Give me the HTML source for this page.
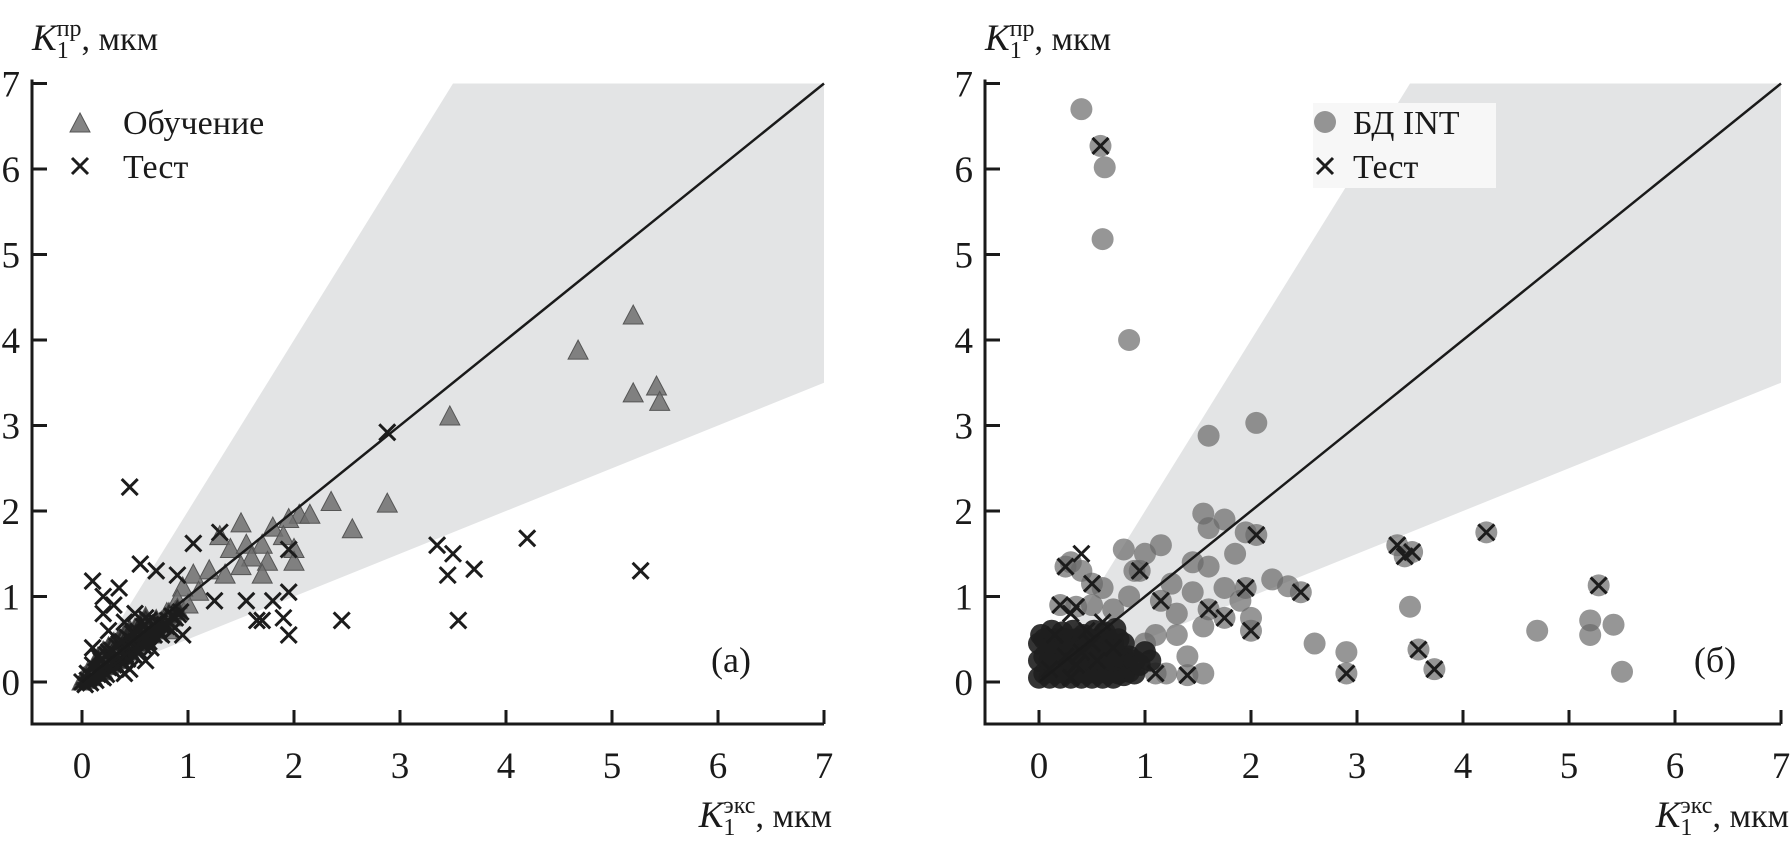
<!DOCTYPE html>
<html><head><meta charset="utf-8"><style>
body{margin:0;background:#fff}
svg{display:block;font-family:"Liberation Serif",serif}
</style></head><body>
<svg id="chart" width="1791" height="848" viewBox="0 0 1791 848"></svg>
<script>
const ticks=[0,1,2,3,4,5,6,7];
const trainX=[2.35,2.55,2.88,3.47,4.68,5.2,5.2,5.42,5.45,2.05,2.15,1.95,1.8,1.5,1.3,1.4,1.55,1.7,1.9,2.0,2.0,1.75,1.6,1.5,1.2,1.05,1.35,1.7,1.1,0.95,0.9,0.8,0.7,0.6,0.5,0.4,0.3,0.2,0.1,0.05,0.75,0.65,0.55,0.45,0.35,0.25,0.15,0.85,0.9,1.0,0.6,0.3,0.8];
const trainY=[2.1,1.78,2.08,3.1,3.87,4.28,3.37,3.45,3.27,1.95,1.95,1.9,1.8,1.85,1.7,1.55,1.6,1.6,1.7,1.55,1.4,1.4,1.45,1.35,1.3,1.25,1.25,1.25,1.05,1.1,0.95,0.8,0.7,0.6,0.5,0.4,0.3,0.2,0.1,0.05,0.65,0.55,0.45,0.35,0.25,0.2,0.12,0.75,0.85,0.9,0.7,0.45,0.6];
const testAX=[0.45,2.88,0.55,0.1,1.05,1.3,0.9,0.7,0.35,0.2,1.95,1.95,1.8,1.25,3.35,3.5,3.7,4.2,5.27,3.45,3.55,2.45,1.7,1.65,1.9,1.95,1.55,0.95,0.65,0.45,0.3,0.2,0.25,0.4,0.5,0.6,0.7,0.8,0.1,0.15,0.05,0.3,0.35,0.5,0.55,0.65,0.75,0.85,0.2,0.4,0.45,0.1,0.0,0.25,0.6];
const testAY=[2.28,2.92,1.38,1.18,1.62,1.75,1.25,1.3,1.1,1.0,1.55,1.05,0.95,0.95,1.6,1.5,1.32,1.68,1.3,1.25,0.72,0.72,0.72,0.72,0.75,0.55,0.95,0.55,0.6,0.15,0.9,0.8,0.6,0.7,0.8,0.75,0.7,0.65,0.4,0.3,0.1,0.2,0.45,0.3,0.5,0.4,0.55,0.6,0.05,0.1,0.5,0.2,0.0,0.35,0.25];
// dense cluster near origin (panel a)
const clusterAX=[0,0.02,0.05,0.05,0.08,0.1,0.1,0.12,0.15,0.15,0.18,0.2,0.2,0.22,0.25,0.25,0.28,0.3,0.3,0.33,0.35,0.35,0.38,0.4,0.4,0.42,0.45,0.45,0.48,0.5,0.5,0.53,0.55,0.55,0.58,0.6,0.6,0.63,0.65,0.68,0.7,0.7,0.73,0.75,0.78,0.8,0.82,0.85,0.88,0.9,0.3,0.4,0.5,0.6,0.2,0.15,0.25,0.35,0.45,0.55];
const clusterAY=[0,0.05,0.02,0.1,0.08,0.05,0.15,0.12,0.1,0.2,0.15,0.12,0.25,0.2,0.18,0.3,0.25,0.22,0.35,0.3,0.25,0.4,0.35,0.3,0.45,0.4,0.35,0.5,0.42,0.4,0.55,0.5,0.45,0.6,0.55,0.5,0.65,0.6,0.58,0.65,0.6,0.72,0.68,0.7,0.75,0.72,0.8,0.78,0.82,0.85,0.45,0.55,0.62,0.75,0.35,0.28,0.4,0.5,0.6,0.68];
const dbX=[0.4,0.58,0.62,0.6,0.85,1.6,2.05,1.55,1.75,1.6,1.95,1.45,1.6,1.85,1.0,1.15,0.8,0.9,1.25,1.45,1.75,1.9,2.2,2.35,2.0,1.55,1.3,1.1,1.4,1.55,1.2,2.6,2.9,3.5,4.7,5.2,5.2,5.42,5.5,0.3,0.4,0.6,0.5,0.7,0.25,0.5,0.95,1.15,0.2,0.35,1.6,1.75,1.95,2.05,2.47,2.0,2.9,3.38,3.45,3.52,3.58,3.73,4.22,5.28,1.4,1.1,0.85,1.0,1.3];
const dbY=[6.7,6.27,6.02,5.18,4.0,2.88,3.03,1.97,1.9,1.8,1.75,1.4,1.35,1.5,1.5,1.6,1.55,1.3,1.15,1.05,1.1,0.95,1.2,1.12,0.75,0.65,0.8,0.55,0.3,0.1,0.1,0.45,0.35,0.88,0.6,0.72,0.55,0.67,0.12,1.4,1.3,1.1,0.9,0.85,1.35,1.15,1.3,0.95,0.9,0.88,0.85,0.75,1.1,1.72,1.05,0.6,0.1,1.6,1.47,1.52,0.38,0.15,1.75,1.13,0.08,0.1,1.0,0.45,0.55];
// dense cluster near origin (panel b)
const clusterBX=[0,0.05,0.1,0.15,0.2,0.25,0.3,0.35,0.4,0.45,0.5,0.55,0.6,0.65,0.7,0.75,0.8,0.85,0.9,0,0.05,0.1,0.15,0.2,0.25,0.3,0.35,0.4,0.45,0.5,0.55,0.6,0.65,0.7,0.75,0.8,0.85,0.9,0,0.05,0.1,0.15,0.2,0.25,0.3,0.35,0.4,0.45,0.5,0.55,0.6,0.65,0.7,0.75,0.8,0.02,0.12,0.22,0.32,0.42,0.52,0.62,0.72,0.95,1.05,1.0];
const clusterBY=[0.05,0.1,0.05,0.1,0.05,0.1,0.05,0.1,0.05,0.1,0.05,0.1,0.05,0.1,0.05,0.1,0.08,0.12,0.1,0.25,0.3,0.25,0.3,0.25,0.3,0.25,0.3,0.25,0.3,0.25,0.3,0.25,0.3,0.25,0.3,0.28,0.3,0.25,0.45,0.5,0.45,0.5,0.45,0.5,0.45,0.5,0.45,0.5,0.45,0.5,0.45,0.5,0.45,0.5,0.45,0.55,0.6,0.58,0.6,0.55,0.6,0.58,0.62,0.2,0.25,0.35];
const testBX=[0.58,0.25,0.4,0.5,0.95,1.15,0.2,0.35,1.6,1.75,1.95,2.05,2.47,2.0,2.9,3.38,3.45,3.52,3.58,3.73,4.22,5.28,1.4,1.1,0.3,0.15,0.45,0.6,0.25,0.35,0.5,0.7,0.1,0.3,0.55,0.4];
const testBY=[6.27,1.35,1.5,1.15,1.3,0.95,0.9,0.88,0.85,0.75,1.1,1.72,1.05,0.6,0.1,1.6,1.47,1.52,0.38,0.15,1.75,1.13,0.08,0.1,0.8,0.55,0.6,0.7,0.3,0.2,0.45,0.4,0.15,0.05,0.25,0.35];

const NS="http://www.w3.org/2000/svg";
const svg=document.getElementById('chart');
function mk(tag,attrs,parent){const e=document.createElementNS(NS,tag);for(const k in attrs)e.setAttribute(k,attrs[k]);(parent||svg).appendChild(e);return e;}
const sy=v=>682-85.5*v;
const panels=[{x0:82,axis:32,id:'a',label:'(а)',lx:731},{x0:1039,axis:985,id:'b',label:'(б)',lx:1715}];
panels.forEach(p=>{
  const sx=v=>p.x0+106*v;
  const g=mk('g',{});
  
  
  const band=mk('polygon',{points:`${sx(0)},${sy(0)} ${sx(3.5)},${sy(7)} ${sx(7)},${sy(7)} ${sx(7)},${sy(3.5)}`,fill:'#e3e4e5'},g);
  
  
  p.sx=sx;p.g=g;
});
function tri(g,x,y,c){const e=mk('polygon',{points:`${x},${y-11} ${x-10},${y+8} ${x+10},${y+8}`,fill:c||'#6f6f6f','fill-opacity':0.85,stroke:'#555','stroke-width':1},g);return e;}
function cross(g,x,y,n){const e=mk('path',{d:`M${x-8},${y-8}L${x+8},${y+8}M${x+8},${y-8}L${x-8},${y+8}`,stroke:'#1c1c1c','stroke-width':3},g);return e;}
function circ(g,x,y,c,o){const e=mk('circle',{cx:x,cy:y,r:11,fill:c||'#6a6a6a','fill-opacity':o||0.7},g);return e;}
const A=panels[0],B=panels[1];
trainX.forEach((v,i)=>tri(A.g,A.sx(v),sy(trainY[i])));
clusterAX.forEach((v,i)=>tri(A.g,A.sx(v),sy(clusterAY[i]),'#222'));
testAX.forEach((v,i)=>cross(A.g,A.sx(v),sy(testAY[i])));
clusterAX.forEach((v,i)=>cross(A.g,A.sx(v+0.03),sy(clusterAY[i]-0.03)));
dbX.forEach((v,i)=>circ(B.g,B.sx(v),sy(dbY[i])));
clusterBX.forEach((v,i)=>circ(B.g,B.sx(v),sy(clusterBY[i]),'#1e1e1e',0.9));
testBX.forEach((v,i)=>cross(B.g,B.sx(v),sy(testBY[i])));
const lb=mk('rect',{x:1313,y:103,width:183,height:85,fill:'#f7f7f7'},B.g);


panels.forEach(p=>{
  const g=p.g,sx=p.sx;
  const d=mk('line',{x1:sx(0),y1:sy(0),x2:sx(7),y2:sy(7),stroke:'#1a1a1a','stroke-width':2.5},g);
  
  
  const ax=mk('path',{d:`M${p.axis},${sy(7)-4}L${p.axis},724L${sx(7)},724`,stroke:'#1a1a1a','stroke-width':3,fill:'none'},g);
  
  
  ticks.forEach(t=>{
    mk('line',{x1:sx(t),y1:724,x2:sx(t),y2:710,stroke:'#1a1a1a','stroke-width':3},g);
    const tx=mk('text',{x:sx(t),y:778,'font-size':37,'text-anchor':'middle',fill:'#1a1a1a'},g);
    tx.textContent=t;
    
    
    mk('line',{x1:p.axis,y1:sy(t),x2:p.axis+15,y2:sy(t),stroke:'#1a1a1a','stroke-width':3},g);
    const ty=mk('text',{x:p.axis-12,y:sy(t)+13,'font-size':37,'text-anchor':'end',fill:'#1a1a1a'},g);
    ty.textContent=t;
    
    
  });
  const pl=mk('text',{x:p.lx,y:672,'font-size':36,'text-anchor':'middle',fill:'#1a1a1a'},g);
  pl.textContent=p.label;
  
  
  const yt=mk('text',{x:p.axis,y:50,'font-size':34,fill:'#1a1a1a'},g);
  yt.innerHTML='<tspan font-style="italic" font-size="37">K</tspan><tspan dy="8" font-size="24">1</tspan><tspan dy="-22" dx="-12" font-size="24">пр</tspan><tspan dy="14">, мкм</tspan>';
  
  
  const xt=mk('text',{x:sx(7)+8,y:827,'font-size':34,'text-anchor':'end',fill:'#1a1a1a'},g);
  xt.innerHTML='<tspan font-style="italic" font-size="37">K</tspan><tspan dy="8" font-size="24">1</tspan><tspan dy="-22" dx="-12" font-size="24">экс</tspan><tspan dy="14">, мкм</tspan>';
  
  
});
const legA=mk('g',{});
tri(legA,80,124);
let t=mk('text',{x:123,y:134,'font-size':34,fill:'#1a1a1a'},legA);t.textContent='Обучение';
cross(legA,80,166,'legend-test-marker');
t=mk('text',{x:123,y:178,'font-size':34,fill:'#1a1a1a'},legA);t.textContent='Тест';
const legB=mk('g',{});
circ(legB,1325,122);
t=mk('text',{x:1353,y:134,'font-size':34,fill:'#1a1a1a'},legB);t.textContent='БД INT';
cross(legB,1325,166,'legend-test-marker');
t=mk('text',{x:1353,y:178,'font-size':34,fill:'#1a1a1a'},legB);t.textContent='Тест';
</script>
</body></html>
